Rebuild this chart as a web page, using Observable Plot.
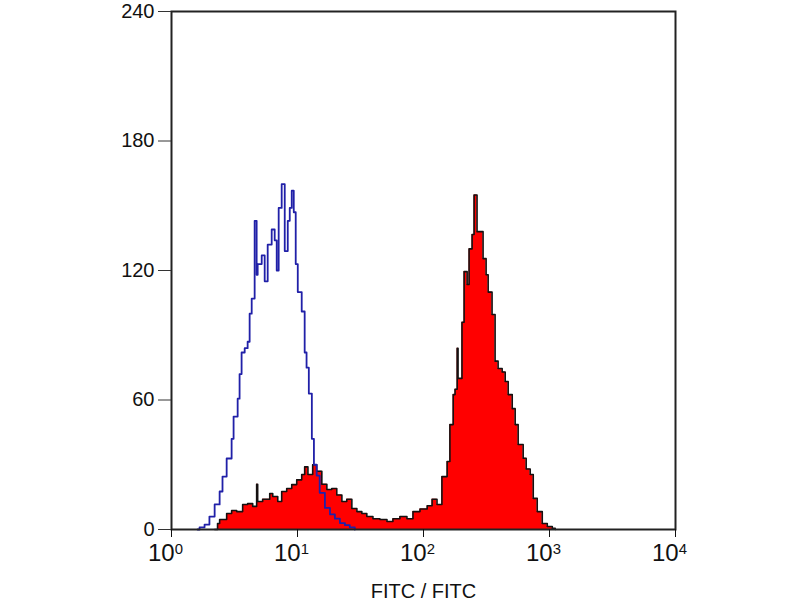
<!DOCTYPE html>
<html>
<head>
<meta charset="utf-8">
<script src="https://cdn.jsdelivr.net/npm/d3@7"></script>
<script src="https://cdn.jsdelivr.net/npm/@observablehq/plot@0.6"></script>
<style>
  html, body { margin: 0; padding: 0; background: #fff; }
  #chart { width: 800px; height: 600px; }
</style>
</head>
<body>
<div id="chart"></div>
<script>
// Control (isotype) histogram — blue outline
const blueFITC = [1.61,1.67,1.83,2.00,2.20,2.41,2.54,2.74,3.00,3.11,3.35,3.47,3.60,3.81,4.02,4.17,4.33,4.57,4.74,4.83,5.20,5.49,5.80,6.24,6.59,6.84,7.09,7.49,7.92,8.37,8.68,9.00,9.34,9.68,10.05,10.8,11.4,11.8,12.3,13.0,13.5,14.2,15.0,16.5,18.1,19.8,21.7,23.8,26.0,28.5];
const blueCount = [0,1,2.3,6,11.6,17.6,24.5,32.9,42,52.3,60.6,72,82,84,87,100,107,143,118,123,127,115,132,139,134,120,149,160,129,143,149,157,147,123,110,101,82,75,63,42,30,25,17,10,7,5,3,2,1,0];

// Stained sample histogram — red filled
const redFITC = [2.20,2.32,2.41,2.74,3.00,3.29,3.67,4.02,4.41,4.74,4.83,5.29,6.02,6.36,6.97,7.49,8.21,9.00,9.86,10.8,11.4,12.1,13.2,14.2,15.6,17.1,18.7,20.5,22.5,24.6,27.0,29.6,32.4,35.5,39.7,45.1,51.3,57.2,65.0,73.9,82.5,93.8,107,117,128,140,154,162,172,178,185,188,202,210,222,230,243,252,266,281,297,314,326,350,370,391,421,445,470,506,534,564,618,653,703,743,799,876,960,1052,1111];
const redCount = [0,2.8,4.6,7.4,8.8,8.3,11.6,12,10.7,21,13,14,16.7,15.3,13,17.6,19,20.8,23,25.5,29,25.5,30,27,21,18.5,19,16,13,14,9.7,8.3,7.4,6,5,4.6,3.7,5,6,5,8.3,9.5,11,14,11.6,24.5,31.5,48.6,62.5,65,84,70,96,119.5,113.5,130,136.7,155,138,138,125.5,118,110,99.6,78,74.6,73,68.6,62.5,56,48.6,39.4,33,28,25.5,14.4,8.3,2.8,1.4,0.5,0];

// Axis ticks
const xTicks = [1, 10, 100, 1000, 10000];
const xTickExp = ["0", "1", "2", "3", "4"];
const yTicks = [0, 60, 120, 180, 240];
const xLabel = "FITC / FITC";

const blue = blueFITC.map((x, i) => ({x, y: blueCount[i]}));
const red = redFITC.map((x, i) => ({x, y: redCount[i]}));

const chart = Plot.plot({
  width: 800,
  height: 600,
  marginLeft: 171,
  marginRight: 125,
  marginTop: 11,
  marginBottom: 71,
  style: {fontFamily: "'Liberation Sans', Arial, sans-serif", background: "#fff", color: "#111"},
  x: {type: "log", domain: [1, 10000]},
  y: {domain: [0, 240]},
  marks: [
    Plot.areaY(red, {x: "x", y: "y", curve: "step-after", fill: "#ff0000"}),
    Plot.lineY(red, {x: "x", y: "y", curve: "step-after", stroke: "#151010", strokeWidth: 1.6}),
    Plot.lineY(blue, {x: "x", y: "y", curve: "step-after", stroke: "#2020a8", strokeWidth: 1.8}),
    Plot.frame({stroke: "#222", strokeWidth: 2}),
    Plot.axisY({ticks: yTicks, tickSize: 13, tickPadding: 4, fontSize: 20, label: null, tickFormat: d => String(d), stroke: "#333"}),
    Plot.axisX({ticks: xTicks, tickSize: 8, tickPadding: 6, fontSize: 24, label: xLabel, labelAnchor: "center", labelArrow: "none", labelOffset: 68,
      tickFormat: d => "10|" + xTickExp[xTicks.indexOf(d)]})
  ]
});
document.getElementById("chart").appendChild(chart);

// Superscript exponents on the x tick labels
d3.select(chart).selectAll('g[aria-label="x-axis tick label"] text').each(function() {
  const t = d3.select(this);
  const parts = t.text().split("|");
  t.text(null).attr("dx", "-0.25em");
  t.append("tspan").text(parts[0]);
  t.append("tspan").attr("dy", "-0.45em").attr("font-size", "0.62em").text(parts[1]);
});
d3.select(chart).selectAll('g[aria-label="x-axis label"] text').attr("font-size", 20);
</script>
</body>
</html>
